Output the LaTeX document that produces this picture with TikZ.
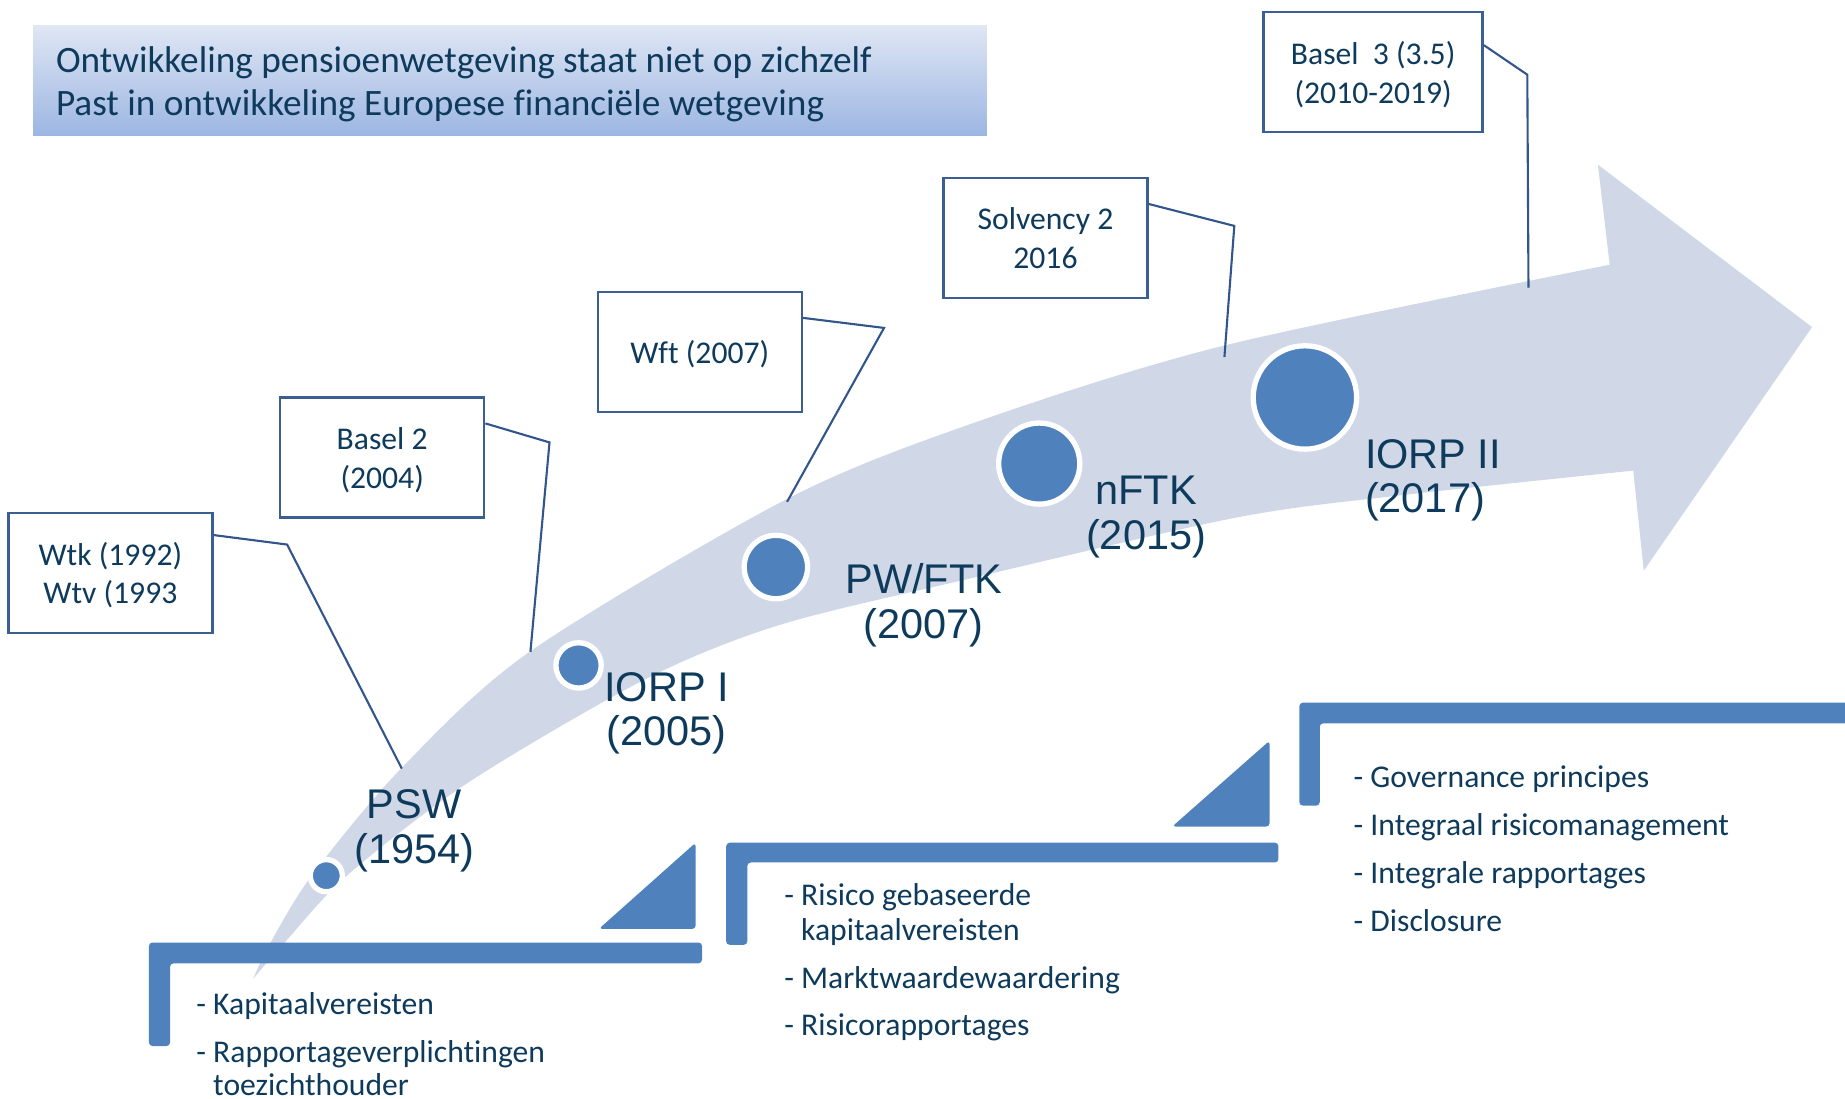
\documentclass[tikz,border=0pt]{standalone}
\usepackage{fontspec}
\setmainfont{Carlito}[Ligatures=NoCommon]
\newfontfamily\labelfont{Liberation Sans}
\usetikzlibrary{calc}

\definecolor{arrowgrey}{RGB}{208,216,232}
\definecolor{dotblue}{RGB}{79,129,189}
\definecolor{navy}{RGB}{14,58,92}
\definecolor{boxline}{RGB}{60,95,145}
\definecolor{calloutline}{RGB}{50,85,140}
\definecolor{titletop}{RGB}{223,230,244}
\definecolor{titlebottom}{RGB}{156,182,226}

\tikzset{
	stage/.style={circle, fill=dotblue, draw=white, line width=0.53mm, inner sep=0pt},
	stagelabel/.style={text=navy, font=\labelfont\fontsize{11.8}{12.7}\selectfont, inner sep=0pt, anchor=base},
	lawbox/.style={draw=boxline, line width=0.7pt, fill=white, text=navy, font=\fontsize{9}{11}\selectfont, align=center, minimum width=2.04cm, minimum height=1.2cm, inner sep=0pt, text depth=0pt},
	callout/.style={draw=calloutline, line width=0.6pt},
	steplist/.style={text=navy, font=\fontsize{9}{10}\selectfont, anchor=base west, inner sep=0pt},
	stepbar/.style={fill=dotblue, rounded corners=1pt}
}

\begin{document}
\begin{tikzpicture}[x=0.11767mm, y=-0.11767mm]
			%%%%% START %%%%%
			\useasboundingbox (0,0) rectangle (1568,934);
			
			\shade[top color=titletop, bottom color=titlebottom] (28.2,22.1) rectangle (838.8,115.3);
			\node[steplist, font=\fontsize{10.6}{12}\selectfont] (title) at (47,62) {\begin{tabular}[t]{@{}l@{}}Ontwikkeling pensioenwetgeving staat niet op zichzelf\\Past in ontwikkeling Europese financi\"ele wetgeving\end{tabular}};
			
			\fill[arrowgrey] plot[smooth] coordinates {(215,832) (230,801) (265,744) (341,653) (450,554) (667,425) (823,361) (1039,294) (1368,225)}
				-- (1358,140) -- (1540,278) -- (1397,485) -- (1388,400)
				-- plot[smooth] coordinates {(1388,400) (1190,421) (1050,440) (823,492) (663,531) (549,577) (398,665) (295,744) (242,801) (215,832)} -- cycle;
			
			\fill[stepbar] (126.6,801) -- (596.6,801) -- (596.6,818.7) -- (144.5,818.7) -- (144.5,889) -- (126.6,889) -- cycle;
			\fill[stepbar] (508.9,789.5) -- (591.2,716.2) -- (591.2,789.5) -- cycle;
			\fill[stepbar] (617.2,716.2) -- (1086.5,716.2) -- (1086.5,733) -- (635.1,733) -- (635.1,803) -- (617.2,803) -- cycle;
			\fill[stepbar] (996.2,702.5) -- (1079,629.5) -- (1079,702.5) -- cycle;
			\fill[stepbar] (1104.3,597.2) -- (1575,597.2) -- (1575,614.7) -- (1121.6,614.7) -- (1121.6,684.7) -- (1104.3,684.7) -- cycle;
			
			\node[stage, minimum size=3.21mm] (psw) at (277.3,744.2) {};
			\node[stage, minimum size=4.53mm] (iorp1) at (491.7,565.5) {};
			\node[stage, minimum size=6.34mm] (pwftk) at (659.4,481.9) {};
			\node[stage, minimum size=8.11mm] (nftk) at (883.2,394) {};
			\node[stage, minimum size=10.34mm] (iorp2) at (1109,337.8) {};
			
			\node[stagelabel] (psw-label) at (352,696) {\begin{tabular}[t]{@{}c@{}}PSW\\(1954)\end{tabular}};
			\node[stagelabel] (iorp1-label) at (566.5,596) {\begin{tabular}[t]{@{}c@{}}IORP I\\(2005)\end{tabular}};
			\node[stagelabel] (pwftk-label) at (785,504.5) {\begin{tabular}[t]{@{}c@{}}PW/FTK\\(2007)\end{tabular}};
			\node[stagelabel] (nftk-label) at (974,429) {\begin{tabular}[t]{@{}c@{}}nFTK\\(2015)\end{tabular}};
			\node[stagelabel, anchor=base west] (iorp2-label) at (1159.5,397.8) {\begin{tabular}[t]{@{}l@{}}IORP II\\(2017)\end{tabular}};
			
			\node[lawbox] (wtk) at (93.8,487) {Wtk (1992)\\Wtv (1993};
			\node[lawbox] (basel2) at (324.8,389) {Basel 2\\(2004)};
			\node[lawbox] (wft) at (594.7,299.3) {Wft (2007)};
			\node[lawbox] (solvency) at (888.5,202.5) {Solvency 2\\2016};
			\node[lawbox, minimum width=2.19cm] (basel3) at (1167,61.3) {Basel\ \ 3 (3.5)\\(2010-2019)};
			
			\coordinate (wtk-bend) at (244,462.8);
			\coordinate (wtk-end) at (341.5,653.2);
			\coordinate (basel2-bend) at (467,376);
			\coordinate (basel2-end) at (450.8,553.9);
			\coordinate (wft-bend) at (751.3,278.7);
			\coordinate (wft-end) at (668.9,426.5);
			\coordinate (solvency-bend) at (1049,192);
			\coordinate (solvency-end) at (1040.6,303.4);
			\coordinate (basel3-bend) at (1298,63.5);
			\coordinate (basel3-end) at (1299,244.4);
			
			\draw[callout] ($(wtk.north east)!0.19!(wtk.south east)$) -- (wtk-bend) -- (wtk-end);
			\draw[callout] ($(basel2.north east)!0.22!(basel2.south east)$) -- (basel2-bend) -- (basel2-end);
			\draw[callout] ($(wft.north east)!0.22!(wft.south east)$) -- (wft-bend) -- (wft-end);
			\draw[callout] ($(solvency.north east)!0.22!(solvency.south east)$) -- (solvency-bend) -- (solvency-end);
			\draw[callout] ($(basel3.north east)!0.28!(basel3.south east)$) -- (basel3-bend) -- (basel3-end);
			
			\node[steplist] (list1) at (166.3,862) {\begin{tabular}[t]{@{}l@{}}- Kapitaalvereisten\\[3.7pt]- Rapportageverplichtingen\\[-0.6pt]\hphantom{-\ }toezichthouder\end{tabular}};
			\node[steplist] (list2) at (666,769.8) {\begin{tabular}[t]{@{}l@{}}- Risico gebaseerde\\\hphantom{-\ }kapitaalvereisten\\[3.5pt]- Marktwaardewaardering\\[3.5pt]- Risicorapportages\end{tabular}};
			\node[steplist] (list3) at (1149.8,669) {\begin{tabular}[t]{@{}l@{}}- Governance principes\\[3.7pt]- Integraal risicomanagement\\[3.7pt]- Integrale rapportages\\[3.7pt]- Disclosure\end{tabular}};
			
			%%%%% END %%%%%
\end{tikzpicture}
\end{document}
